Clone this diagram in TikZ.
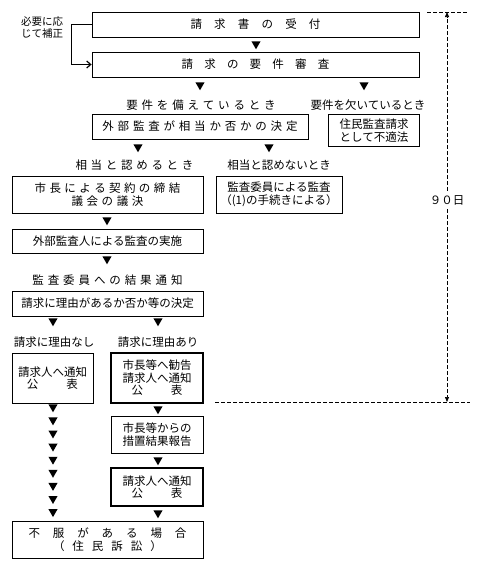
\documentclass[tikz,border=0pt]{standalone}
\usepackage{fontspec}
\setmainfont{Noto Sans CJK JP}
\usetikzlibrary{arrows.meta,shapes.geometric}

% spaced-out characters
\newcommand\spread[2]{\def\spreadgap{\hspace{#1}}\spreadfirst#2\relax}
\def\spreadfirst#1{#1\spreadrest}
\def\spreadrest#1{\ifx\relax#1\else\spreadgap#1\expandafter\spreadrest\fi}

\tikzset{
  box/.style={draw,line width=0.8pt,inner sep=0pt,align=center},
  boldbox/.style={box,line width=1.5pt},
  tri/.style={regular polygon,regular polygon sides=3,shape border rotate=180,
              fill=black,inner sep=0pt,minimum size=10.5pt},
  daysline/.style={dash pattern=on 4pt off 2pt,line width=0.7pt}
}

\begin{document}
\begin{tikzpicture}[x=1pt,y=-1pt,font=\fontsize{11.5}{12.5}\selectfont]
  \useasboundingbox (0,0) rectangle (490,570);

  % top of the flow
  \node[box,minimum width=327pt,minimum height=25pt] (recv) at (255.5,24.5)
    {\spread{12.2pt}{請求書の受付}};
  \node[box,minimum width=327pt,minimum height=25pt] (exam) at (255.5,64.5)
    {\spread{11.2pt}{請求の要件審査}};
  \node[font=\fontsize{10.5}{12}\selectfont,align=center] (fix) at (42,28)
    {必要に応\\じて補正};
  \draw[line width=1.2pt,-{Straight Barb[length=4pt,width=7pt]}]
    (recv.west) -- ++(-20,0) |- (exam.west);
  \node[tri] (t1) at (256,44) {};

  \node[tri] (t2) at (200,85) {};
  \node[tri] (t3) at (364,85) {};
  \node (meet) at (201,105) {\spread{3.8pt}{要件を備えているとき}};
  \node (lack) at (368,105) {要件を欠いているとき};

  \node[box,minimum width=216pt,minimum height=25pt] (ext) at (200,126.5)
    {\spread{3.8pt}{外部監査が相当か否かの決定}};
  \node[boldbox,minimum width=91pt,minimum height=32pt] (unfit) at (374,130.5)
    {住民監査請求\\として不適法};

  \node[tri] (t4) at (138,147) {};
  \node[tri] (t5) at (269,147) {};
  \node (ok) at (134.5,165) {\spread{3.7pt}{相当と認めるとき}};
  \node (ng) at (279,165) {相当と認めないとき};

  \node[box,minimum width=191pt,minimum height=37pt] (contract) at (107.5,194.5)
    {\spread{3.4pt}{市長による契約の締結}\\\spread{3.6pt}{議会の議決}};
  \node[box,minimum width=126pt,minimum height=37pt] (byboard) at (279,194.5)
    {監査委員による監査\\（(1)の手続きによる）};

  \node[tri] (t6) at (107,220) {};
  \node[box,minimum width=191pt,minimum height=24pt] (audit) at (107.5,241)
    {外部監査人による監査の実施};
  \node[tri] (t7) at (107,259) {};
  \node (report) at (107.5,280) {\spread{3.9pt}{監査委員への結果通知}};

  \node[box,minimum width=191pt,minimum height=25pt] (decide) at (107.5,303.5)
    {請求に理由があるか否か等の決定};
  \node[tri] (t8) at (53,321) {};
  \node[tri] (t9) at (158,321) {};
  \node (noreason) at (54,342) {請求に理由なし};
  \node (reason) at (158,342) {請求に理由あり};

  \node[box,minimum width=81pt,minimum height=50pt] (notifyA) at (52.5,378)
    {請求人へ通知\\公\hspace{28pt}表};
  \node[boldbox,minimum width=92pt,minimum height=50pt] (advise) at (157,378)
    {市長等へ勧告\\請求人へ通知\\公\hspace{28pt}表};

  % waiting column on the left
  \foreach \i in {0,...,8}
    \node[tri] (col\i) at (53,{407+13.1*\i}) {};

  \node[tri] (t10) at (158,409) {};
  \node[box,minimum width=92pt,minimum height=37pt] (measure) at (157,434.5)
    {市長等からの\\措置結果報告};
  \node[tri] (t11) at (158,460) {};
  \node[boldbox,minimum width=92pt,minimum height=38pt] (notifyB) at (157,487)
    {請求人へ通知\\公\hspace{28pt}表};
  \node[tri] (t12) at (158,513) {};

  \node[box,minimum width=191pt,minimum height=37pt] (suit) at (107.5,539.5)
    {\spread{12.9pt}{不服がある場合}\\\spread{8pt}{（住民訴訟）}};

  % 90 days span
  \coordinate (topl) at (427,12);
  \coordinate (topr) at (468,12);
  \coordinate (top) at (447,12);
  \coordinate (botl) at (215,402);
  \coordinate (botr) at (470,402);
  \coordinate (bot) at (447,402);
  \node[inner sep=4pt] (days) at (447,200) {９０日};
  \draw[daysline] (topl) -- (topr);
  \draw[daysline] (botl) -- (botr);
  \draw[daysline,-{Triangle[length=5pt,width=4pt]}] (days.north) -- (top);
  \draw[daysline,-{Triangle[length=5pt,width=4pt]}] (days.south) -- (bot);
\end{tikzpicture}
\end{document}
